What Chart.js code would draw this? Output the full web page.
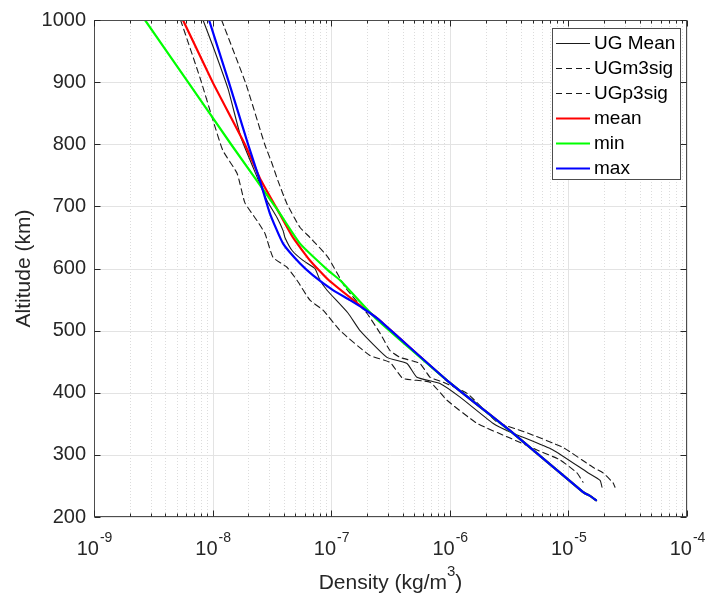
<!DOCTYPE html>
<html><head><meta charset="utf-8">
<script src="https://cdn.jsdelivr.net/npm/chart.js@4.4.0/dist/chart.umd.min.js"></script>
<style>html,body{margin:0;padding:0;background:#fff;}#wrap{width:711px;height:595px;}</style>
</head><body>
<div id="wrap"><canvas id="c" width="711" height="595"></canvas></div>
<script>
// ---- data ----
const ugMeanAlt = [1000,955,889,810,745,709,682,661,650,629,613,600,581,565,528,500,457,447,425,415,393,351,337,308,272,259,248];
const ugMeanRho = [8.30e-9,1.02e-8,1.35e-8,1.74e-8,2.40e-8,2.88e-8,3.49e-8,3.93e-8,4.07e-8,4.68e-8,5.78e-8,7.29e-8,8.05e-8,9.23e-8,1.39e-7,1.75e-7,2.95e-7,4.36e-7,5.28e-7,8.26e-7,1.22e-6,2.31e-6,3.22e-6,7.41e-6,1.44e-5,1.85e-5,1.92e-5];

const ugM3sigAlt = [1000,907,838,790,753,706,677,656,618,602,581,549,533,500,460,449,423,417,388,351,327,308,292,271,256];
const ugM3sigRho = [5.37e-9,7.83e-9,1.01e-8,1.22e-8,1.61e-8,1.87e-8,2.37e-8,2.77e-8,3.23e-8,4.24e-8,5.15e-8,6.62e-8,8.53e-8,1.19e-7,2.12e-7,3.13e-7,4.03e-7,6.81e-7,9.46e-7,1.69e-6,3.22e-6,5.43e-6,8.49e-6,1.18e-5,1.33e-5];

const ugP3sigAlt = [1000,897,800,769,741,704,666,650,618,569,528,496,468,457,447,425,417,399,353,337,312,280,271,255,248];
const ugP3sigRho = [1.19e-8,1.91e-8,2.75e-8,3.17e-8,3.56e-8,4.24e-8,5.46e-8,6.62e-8,9.40e-8,1.32e-7,2.00e-7,2.58e-7,3.13e-7,3.80e-7,5.61e-7,6.81e-7,8.77e-7,1.40e-6,2.50e-6,4.27e-6,8.99e-6,1.61e-5,1.96e-5,2.38e-5,2.47e-5];

const meanAlt = [1000,900,800,745,696,650,613,581,537,520,420,335,240,234,227];
const meanRho = [5.62e-9,1.00e-8,1.87e-8,2.51e-8,3.49e-8,4.76e-8,6.62e-8,9.55e-8,1.85e-7,2.43e-7,9.46e-7,3.41e-6,1.33e-5,1.52e-5,1.71e-5];

const minAlt = [1000,900,800,693,640,597,581,521,420,335,240,234,227];
const minRho = [2.69e-9,6.21e-9,1.43e-8,3.56e-8,5.46e-8,9.40e-8,1.19e-7,2.34e-7,9.46e-7,3.41e-6,1.33e-5,1.52e-5,1.71e-5];

const maxAlt = [1000,900,800,741,688,640,608,589,566,549,536,520,420,335,240,234,227];
const maxRho = [9.33e-9,1.37e-8,1.99e-8,2.51e-8,3.05e-8,3.93e-8,5.46e-8,7.03e-8,1.02e-7,1.44e-7,1.85e-7,2.43e-7,9.46e-7,3.41e-6,1.33e-5,1.52e-5,1.71e-5];

const seriesLabels = ['UG Mean','UGm3sig','UGp3sig','mean','min','max'];
const xTickValues = [1e-9,1e-8,1e-7,1e-6,1e-5,1e-4];
const xTickExponents = ['-9','-8','-7','-6','-5','-4'];
const xMinorMultipliers = [2,3,4,5,6,7,8,9];
const yTickValues = [200,300,400,500,600,700,800,900,1000];
const xAxisTitle = 'Density (kg/m';
const xAxisTitleSup = '3';
const yAxisTitle = 'Altitude (km)';

// ---- chart ----
const FONT = "'Liberation Sans', Arial, Helvetica, sans-serif";
const AXC = '#262626';
function pts(alt, rho){ return alt.map((a,i)=>({x:rho[i], y:a})); }

const datasets = [
  {label:seriesLabels[0], data:pts(ugMeanAlt,ugMeanRho), borderColor:'#1a1a1a', borderWidth:1.1, order:5},
  {label:seriesLabels[1], data:pts(ugM3sigAlt,ugM3sigRho), borderColor:'#1a1a1a', borderWidth:1.1, borderDash:[6,4], order:4},
  {label:seriesLabels[2], data:pts(ugP3sigAlt,ugP3sigRho), borderColor:'#1a1a1a', borderWidth:1.1, borderDash:[6,4], order:3},
  {label:seriesLabels[3], data:pts(meanAlt,meanRho), borderColor:'#ff0000', borderWidth:2.2, order:2},
  {label:seriesLabels[4], data:pts(minAlt,minRho), borderColor:'#00ff00', borderWidth:2.2, order:1},
  {label:seriesLabels[5], data:pts(maxAlt,maxRho), borderColor:'#0000ff', borderWidth:2.2, order:0}
].map(d=>Object.assign({showLine:true, pointRadius:0, fill:false, tension:0.15, borderCapStyle:'round', borderJoinStyle:'round'}, d));

const matlabPlugin = {
  id:'matlab',
  beforeDatasetsDraw(chart){
    const {ctx, chartArea:a, scales:{x, y}} = chart;
    ctx.save();
    ctx.lineWidth = 1;
    ctx.strokeStyle = 'rgba(38,38,38,0.16)';
    ctx.setLineDash([1,2]);
    for (let k=0;k<xTickValues.length-1;k++){
      for (const m of xMinorMultipliers){
        const px = Math.round(x.getPixelForValue(m*xTickValues[k]))+0.5;
        ctx.beginPath(); ctx.moveTo(px,a.top); ctx.lineTo(px,a.bottom); ctx.stroke();
      }
    }
    ctx.setLineDash([]);
    ctx.strokeStyle = '#e3e3e3';
    for (const v of xTickValues){
      const px = Math.round(x.getPixelForValue(v))+0.5;
      ctx.beginPath(); ctx.moveTo(px,a.top); ctx.lineTo(px,a.bottom); ctx.stroke();
    }
    for (const v of yTickValues){
      const py = Math.round(y.getPixelForValue(v))+0.5;
      ctx.beginPath(); ctx.moveTo(a.left,py); ctx.lineTo(a.right,py); ctx.stroke();
    }
    ctx.restore();
  },
  afterDatasetsDraw(chart){
    const {ctx, chartArea:a, scales:{x, y}} = chart;
    ctx.save();
    ctx.strokeStyle = '#4d4d4d'; ctx.lineWidth = 1;
    const L = Math.round(a.left)+0.5, R = Math.round(a.right)-0.5, T = Math.round(a.top)+0.5, B = Math.round(a.bottom)-0.5;
    ctx.strokeRect(L, T, R-L, B-T);
    ctx.strokeStyle = AXC;
    ctx.beginPath();
    for (let k=0;k<xTickValues.length;k++){
      const px = Math.round(x.getPixelForValue(xTickValues[k]))+0.5;
      ctx.moveTo(px,B); ctx.lineTo(px,B-6); ctx.moveTo(px,T); ctx.lineTo(px,T+6);
      if (k<xTickValues.length-1){
        for (const m of xMinorMultipliers){
          const q = Math.round(x.getPixelForValue(m*xTickValues[k]))+0.5;
          ctx.moveTo(q,B); ctx.lineTo(q,B-3); ctx.moveTo(q,T); ctx.lineTo(q,T+3);
        }
      }
    }
    for (const v of yTickValues){
      const py = Math.round(y.getPixelForValue(v))+0.5;
      ctx.moveTo(L,py); ctx.lineTo(L+6,py); ctx.moveTo(R,py); ctx.lineTo(R-6,py);
    }
    ctx.stroke();

    ctx.fillStyle = AXC;
    ctx.textBaseline = 'alphabetic';
    ctx.textAlign = 'left';
    for (let k=0;k<xTickValues.length;k++){
      const px = x.getPixelForValue(xTickValues[k]);
      ctx.font = '20px ' + FONT;
      const wb = ctx.measureText('10').width;
      ctx.font = '14px ' + FONT;
      const we = ctx.measureText(xTickExponents[k]).width;
      const x0 = px - (wb+we)/2;
      ctx.font = '20px ' + FONT;
      ctx.fillText('10', x0, 555);
      ctx.font = '14px ' + FONT;
      ctx.fillText(xTickExponents[k], x0+wb+1, 542);
    }
    ctx.font = '21px ' + FONT;
    const w1 = ctx.measureText(xAxisTitle).width;
    ctx.font = '15px ' + FONT;
    const w2 = ctx.measureText(xAxisTitleSup).width;
    ctx.font = '21px ' + FONT;
    const w3 = ctx.measureText(')').width;
    const cx = (a.left+a.right)/2;
    let sx = cx - (w1+w2+w3)/2;
    ctx.fillText(xAxisTitle, sx, 589);
    ctx.font = '15px ' + FONT;
    ctx.fillText(xAxisTitleSup, sx+w1, 576);
    ctx.font = '21px ' + FONT;
    ctx.fillText(')', sx+w1+w2, 589);
    ctx.save();
    ctx.translate(30, (a.top+a.bottom)/2);
    ctx.rotate(-Math.PI/2);
    ctx.textAlign = 'center';
    ctx.fillText(yAxisTitle, 0, 0);
    ctx.restore();

    const lx = 552.5, ly = 28.5, lw = 128, lh = 151;
    ctx.fillStyle = '#fff';
    ctx.fillRect(lx, ly, lw, lh);
    ctx.strokeStyle = '#4d4d4d'; ctx.lineWidth = 1; ctx.setLineDash([]);
    ctx.strokeRect(lx, ly, lw, lh);
    ctx.font = '19px ' + FONT;
    ctx.textBaseline = 'middle';
    ctx.textAlign = 'left';
    chart.data.datasets.forEach((d,i)=>{
      const yy = 43 + i*25;
      ctx.strokeStyle = d.borderColor;
      ctx.lineWidth = d.borderWidth;
      ctx.setLineDash(d.borderDash || []);
      ctx.beginPath(); ctx.moveTo(556, yy+0.5); ctx.lineTo(590, yy+0.5); ctx.stroke();
      ctx.setLineDash([]);
      ctx.fillStyle = '#000';
      ctx.fillText(d.label, 594, yy+1);
    });
    ctx.restore();
  }
};

new Chart(document.getElementById('c'), {
  type:'scatter',
  data:{datasets},
  options:{
    responsive:false, animation:false,
    layout:{padding:{top:19, right:24, left:0, bottom:0}},
    plugins:{legend:{display:false}, tooltip:{enabled:false}},
    scales:{
      x:{type:'logarithmic', min:xTickValues[0], max:xTickValues[xTickValues.length-1],
         grid:{display:false, drawTicks:false}, border:{display:false}, ticks:{display:false},
         afterFit(s){ s.height = 78; }},
      y:{type:'linear', min:yTickValues[0], max:yTickValues[yTickValues.length-1],
         grid:{display:false, drawTicks:false}, border:{display:false},
         afterBuildTicks(s){ s.ticks = yTickValues.map(v=>({value:v})); },
         ticks:{font:{family:FONT, size:20}, color:AXC, padding:8, callback:(v)=>String(v)},
         afterFit(s){ s.width = 94; }}
    }
  },
  plugins:[matlabPlugin]
});
</script>
</body></html>
